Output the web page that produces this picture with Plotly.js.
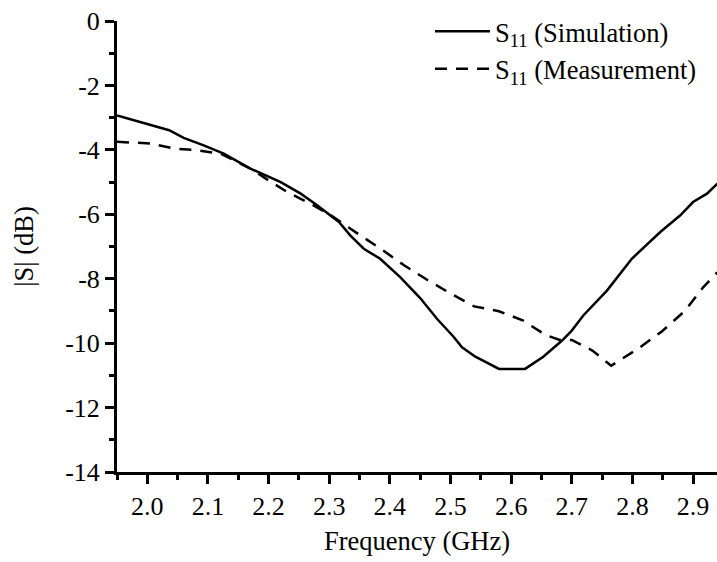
<!DOCTYPE html>
<html><head><meta charset="utf-8">
<script src="https://cdn.plot.ly/plotly-3.0.1.min.js"></script>
<style>html,body{margin:0;padding:0;background:#fff}#chart{width:717px;height:562px}</style>
</head><body><div id="chart"></div>
<script>
// Simulation S11 (GHz, dB)
const simFreq = [1.95, 2.005, 2.036, 2.06, 2.093, 2.126, 2.17, 2.22, 2.253, 2.28, 2.316, 2.335, 2.357, 2.384, 2.417, 2.45, 2.478, 2.505, 2.519, 2.541, 2.56, 2.58, 2.623, 2.653, 2.684, 2.70, 2.719, 2.758, 2.799, 2.846, 2.879, 2.90, 2.923, 2.94];
const simDb   = [-2.93, -3.23, -3.39, -3.63, -3.86, -4.12, -4.58, -5.0, -5.36, -5.72, -6.24, -6.66, -7.07, -7.38, -7.95, -8.6, -9.25, -9.8, -10.13, -10.42, -10.6, -10.8, -10.8, -10.42, -9.92, -9.61, -9.14, -8.37, -7.38, -6.55, -6.03, -5.62, -5.36, -5.05];
// Measurement S11 (GHz, dB)
const measFreq = [1.95, 2.005, 2.044, 2.082, 2.121, 2.17, 2.2, 2.23, 2.269, 2.30, 2.347, 2.385, 2.424, 2.462, 2.501, 2.539, 2.58, 2.619, 2.657, 2.68, 2.70, 2.734, 2.765, 2.811, 2.849, 2.887, 2.917, 2.94];
const measDb   = [-3.75, -3.80, -3.96, -4.01, -4.12, -4.58, -4.95, -5.3, -5.67, -6.0, -6.60, -7.07, -7.59, -8.04, -8.47, -8.86, -9.01, -9.29, -9.75, -9.9, -9.9, -10.23, -10.7, -10.15, -9.63, -8.99, -8.26, -7.8];

const seriesNames = ['S<sub>11</sub> (Simulation)', 'S<sub>11</sub> (Measurement)'];
const xTickVals = [2.0, 2.1, 2.2, 2.3, 2.4, 2.5, 2.6, 2.7, 2.8, 2.9];
const xTickText = ['2.0', '2.1', '2.2', '2.3', '2.4', '2.5', '2.6', '2.7', '2.8', '2.9'];
const yTickVals = [0, -2, -4, -6, -8, -10, -12, -14];
const yTickText = ['0', '-2', '-4', '-6', '-8', '-10', '-12', '-14'];
const xTitle = 'Frequency (GHz)';
const yTitle = '|S| (dB)';

const FONT = 'Liberation Serif';

const traces = [
  {x: simFreq, y: simDb, mode: 'lines', name: seriesNames[0],
   line: {color: '#000', width: 2.5, shape: 'linear'}},
  {x: measFreq, y: measDb, mode: 'lines', name: seriesNames[1],
   line: {color: '#000', width: 2.5, dash: '12px,9px'}}
];

const axisCommon = {
  showline: true, linecolor: '#000', linewidth: 3,
  ticks: 'outside', ticklen: 9, tickwidth: 3, tickcolor: '#000',
  showgrid: false, zeroline: false,
  tickfont: {family: FONT, size: 26, color: '#000'}
};

const layout = {
  width: 717, height: 562,
  margin: {l: 117, r: 0, t: 21, b: 90, pad: 0},
  paper_bgcolor: '#fff', plot_bgcolor: '#fff',
  font: {family: FONT, size: 26, color: '#000'},
  showlegend: true,
  legend: {x: 0.5217, y: 1.03, xanchor: 'left', yanchor: 'top',
           bgcolor: 'rgba(0,0,0,0)', borderwidth: 0, itemwidth: 55,
           font: {family: FONT, size: 26.5, color: '#000'}, tracegroupgap: 0},
  xaxis: Object.assign({}, axisCommon, {
    range: [1.95, 2.9395], tickmode: 'array', tickvals: xTickVals, ticktext: xTickText,
    minor: {ticks: 'outside', ticklen: 5, tickwidth: 3, tickcolor: '#000', dtick: 0.05, tick0: 2.0, showgrid: false},
    title: {text: xTitle, font: {family: FONT, size: 26.5, color: '#000'}, standoff: 12}
  }),
  yaxis: Object.assign({}, axisCommon, {
    range: [-14, 0], tickmode: 'array', tickvals: yTickVals, ticktext: yTickText,
    minor: {ticks: 'outside', ticklen: 5, tickwidth: 3, tickcolor: '#000', dtick: 1, tick0: 0, showgrid: false},
    title: {text: yTitle, font: {family: FONT, size: 26.5, color: '#000'}, standoff: 24}
  })
};

Plotly.newPlot('chart', traces, layout, {displayModeBar: false, staticPlot: true});
</script>
</body></html>
